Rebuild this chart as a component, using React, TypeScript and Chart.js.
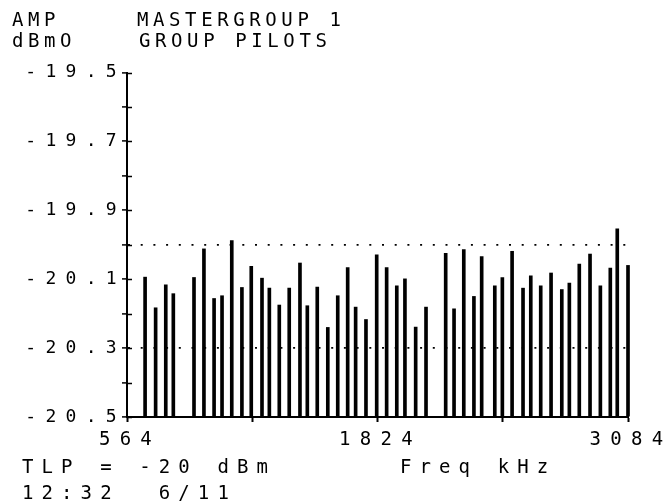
import React, { useEffect, useRef } from 'react';
import { Chart, registerables } from 'chart.js';

Chart.register(...registerables);

// Group pilot frequencies (kHz) and measured amplitudes (dBm0)
const freqKHz = [655, 708, 759, 797, 901, 951, 1002, 1042, 1091, 1142, 1189, 1243, 1280, 1330, 1380, 1434, 1471, 1521, 1574, 1624, 1674, 1714, 1766, 1820, 1870, 1921, 1962, 2016, 2068, 2167, 2209, 2258, 2309, 2348, 2414, 2452, 2501, 2556, 2595, 2645, 2697, 2751, 2789, 2839, 2893, 2945, 2995, 3030, 3084];
const ampDbm0 = [-20.094, -20.183, -20.116, -20.142, -20.095, -20.012, -20.156, -20.148, -19.988, -20.124, -20.063, -20.097, -20.126, -20.175, -20.126, -20.053, -20.177, -20.123, -20.240, -20.148, -20.066, -20.181, -20.217, -20.029, -20.066, -20.119, -20.099, -20.239, -20.181, -20.025, -20.186, -20.014, -20.150, -20.034, -20.119, -20.095, -20.019, -20.126, -20.090, -20.119, -20.082, -20.130, -20.111, -20.056, -20.027, -20.119, -20.068, -19.954, -20.060];

const xTickValues = [564, 1194, 1824, 2454, 3084];
const xLabeledTicks = [564, 1824, 3084];
const yMin = -20.5;
const yMax = -19.5;
const yStep = 0.1;
const yLabeledTicks = [-19.5, -19.7, -19.9, -20.1, -20.3, -20.5];
const dottedLevels = [-20.0, -20.3];

const titleAxis1 = 'AMP';
const titleAxis2 = 'dBmO';
const title1 = 'MASTERGROUP 1';
const title2 = 'GROUP PILOTS';
const footer1 = 'TLP = -20 dBm';
const footerX = 'Freq kHz';
const footer2 = '12:32  6/11';

const FONT = '"DejaVu Sans Mono", monospace';

const tenths = (v: number) => Math.round(v * 10);

const plotterPlugin = {
  id: 'plotterText',
  beforeDraw(chart: any) {
    chart.ctx.letterSpacing = '9.3px';
  },
  afterDraw(chart: any) {
    const ctx = chart.ctx as CanvasRenderingContext2D;
    ctx.save();
    ctx.setLineDash([]);
    ctx.letterSpacing = '0px';
    // inner half of the cross ticks on the y axis
    const ys = chart.scales.y;
    ctx.strokeStyle = '#000';
    ctx.lineWidth = 1.5;
    ctx.beginPath();
    ys.ticks.forEach((t: any) => {
      const py = Math.round(ys.getPixelForValue(t.value)) + 0.5;
      ctx.moveTo(ys.right, py);
      ctx.lineTo(ys.right + 5, py);
    });
    ctx.stroke();

    ctx.fillStyle = '#000';
    ctx.textAlign = 'left';
    ctx.textBaseline = 'alphabetic';
    ctx.font = `19px ${FONT}`;
    ctx.letterSpacing = '4.6px';
    ctx.fillText(titleAxis1, 12, 26);
    ctx.fillText(titleAxis2, 12, 47);
    ctx.fillText(title1, 137, 26);
    ctx.fillText(title2, 139, 47);
    ctx.letterSpacing = '8.1px';
    ctx.fillText(footer1, 22, 473);
    ctx.fillText(footerX, 400, 473);
    ctx.fillText(footer2, 22, 499);
    ctx.restore();
    ctx.letterSpacing = '0px';
  },
};

export default function App() {
  const ref = useRef<HTMLCanvasElement | null>(null);

  useEffect(() => {
    document.body.style.margin = '0';
    const canvas = ref.current;
    if (!canvas) return;
    const chart = new Chart(canvas, {
      type: 'bar',
      data: {
        datasets: [
          {
            data: freqKHz.map((f, i) => ({ x: f, y: ampDbm0[i] })),
            backgroundColor: '#000',
            borderWidth: 0,
            barThickness: 3,
            base: yMin,
            clip: false,
          } as any,
        ],
      },
      options: {
        animation: false,
        responsive: false,
        devicePixelRatio: 1,
        layout: { padding: { left: 0, right: 36, top: 72.5, bottom: 0 } },
        plugins: {
          legend: { display: false },
          tooltip: { enabled: false },
        },
        scales: {
          x: {
            type: 'linear',
            min: 564,
            max: 3084,
            offset: false,
            afterBuildTicks: (scale: any) => {
              scale.ticks = xTickValues.map((v) => ({ value: v }));
            },
            afterFit: (scale: any) => {
              scale.height = 86;
              scale.paddingLeft = 0;
              scale.paddingRight = 0;
            },
            border: { display: true, color: '#000', width: 2 },
            grid: {
              drawOnChartArea: false,
              drawTicks: true,
              tickLength: 5,
              tickColor: '#000',
              tickWidth: 2,
              offset: false,
            },
            ticks: {
              autoSkip: false,
              maxRotation: 0,
              minRotation: 0,
              padding: 7,
              labelOffset: 3,
              color: '#000',
              font: { family: FONT, size: 19 },
              callback: (v: any) => (xLabeledTicks.includes(Number(v)) ? String(v) : ''),
            },
          },
          y: {
            type: 'linear',
            min: yMin,
            max: yMax,
            afterFit: (scale: any) => {
              scale.width = 127;
              scale.paddingTop = 0;
              scale.paddingBottom = 0;
            },
            border: { display: true, color: '#000', width: 2, dash: [2, 10.7] },
            grid: {
              drawOnChartArea: true,
              drawTicks: true,
              tickLength: 5,
              tickColor: '#000',
              tickWidth: 1.5,
              tickBorderDash: [],
              lineWidth: 1.8,
              color: (c: any) =>
                c.tick && dottedLevels.some((d) => tenths(d) === tenths(c.tick.value)) ? '#000' : 'rgba(0,0,0,0)',
            },
            ticks: {
              stepSize: yStep,
              autoSkip: false,
              padding: -4,
              color: '#000',
              font: { family: FONT, size: 18 },
              callback: (v: any) => {
                const n = Number(v);
                return yLabeledTicks.some((l) => tenths(l) === tenths(n)) ? n.toFixed(1) : '';
              },
            },
          },
        },
      } as any,
      plugins: [plotterPlugin],
    });
    return () => chart.destroy();
  }, []);

  return <canvas ref={ref} width={664} height={503} style={{ display: 'block', width: 664, height: 503 }} />;
}
